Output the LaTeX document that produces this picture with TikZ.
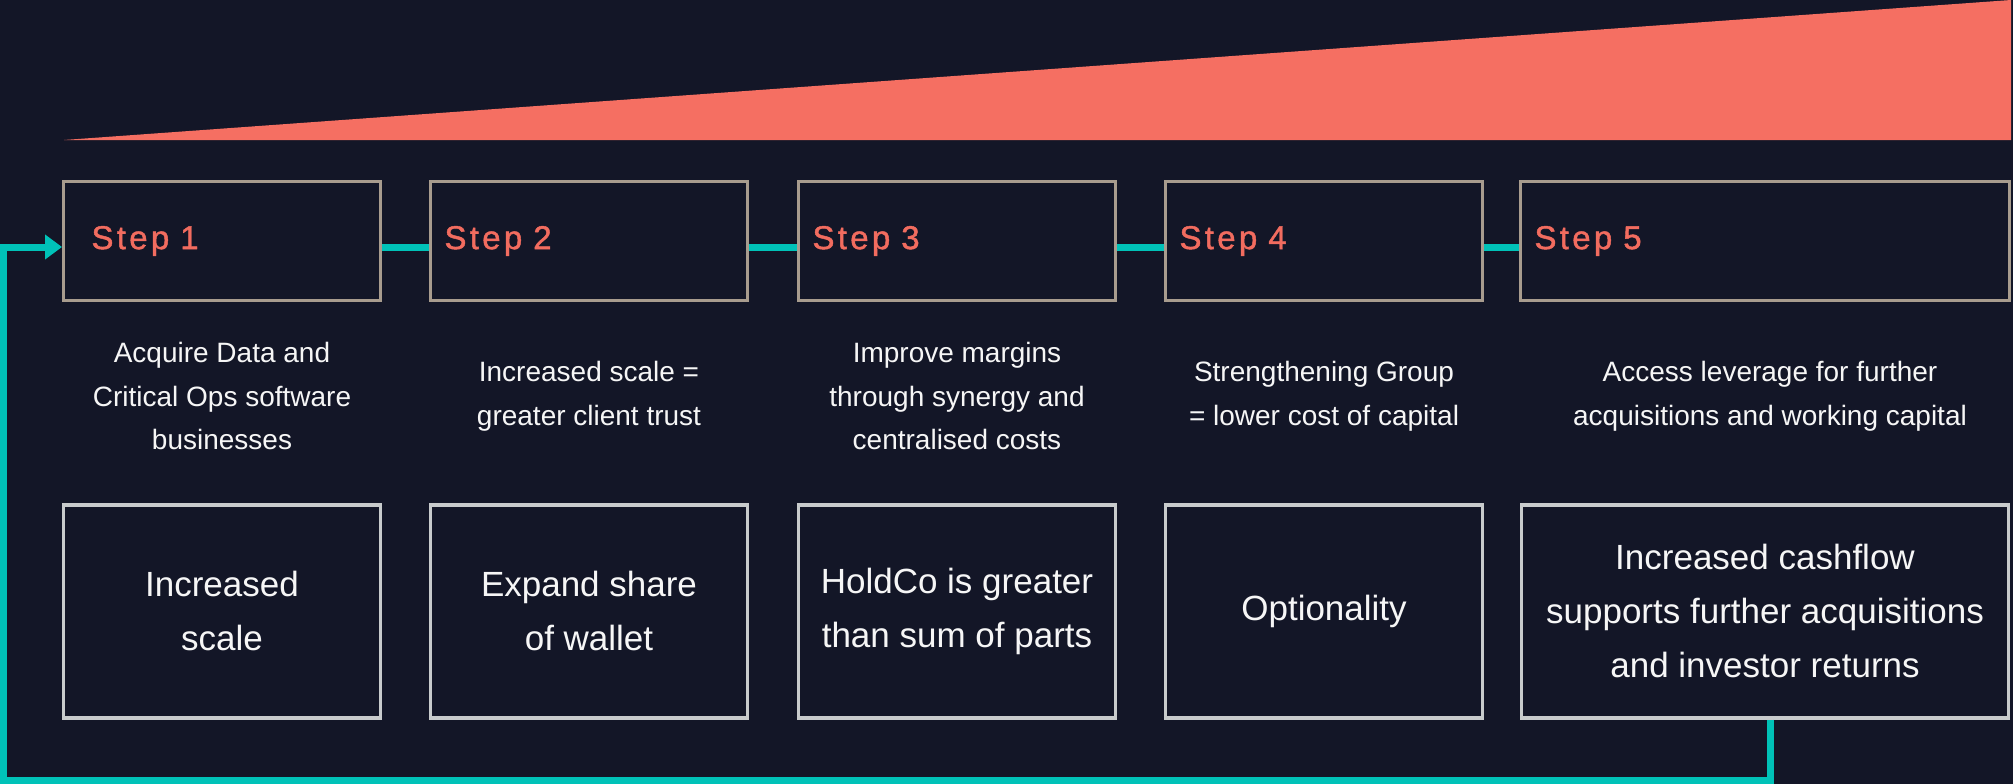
\documentclass[tikz,border=0pt]{standalone}
\usepackage{fontspec}
\setmainfont{Liberation Sans}
\newfontfamily\stepfont[LetterSpace=10, FakeBold=1.3]{Liberation Sans}
\usepackage{xcolor}
\usepackage{tikz}
\usetikzlibrary{arrows.meta,positioning}
\definecolor{navy}{RGB}{19,22,39}
\definecolor{coral}{RGB}{245,111,98}
\definecolor{steptext}{RGB}{242,108,95}
\definecolor{flow}{RGB}{0,194,184}
\definecolor{stepline}{RGB}{168,156,142}
\definecolor{outline}{RGB}{200,203,204}
\definecolor{paper}{RGB}{246,246,246}

\tikzset{
  stepbox/.style={draw=stepline, line width=3pt, minimum height=119pt, inner xsep=14pt,
    text width=289pt, align=left, text=steptext, font=\stepfont\fontsize{33}{38}\selectfont},
  desc/.style={align=center, text=paper, font=\fontsize{28}{43.6}\selectfont},
  outcome/.style={draw=outline, line width=3.5pt, minimum width=317pt, minimum height=213pt,
    align=center, text=paper, font=\fontsize{35}{54}\selectfont},
  link/.style={draw=flow, line width=7pt},
}

\begin{document}
\begin{tikzpicture}[x=1pt, y=-1pt, node distance=47pt and 47pt]
  \fill[navy] (0,0) rectangle (2013,784);
  \fill[coral] (64,140) -- (2011,0) -- (2011,140) -- cycle;

  \node[stepbox, inner xsep=28pt, text width=261pt] (s1) at (222,241) {Step 1};
  \node[stepbox, right=47pt of s1] (s2) {Step 2};
  \node[stepbox, right=48pt of s2] (s3) {Step 3};
  \node[stepbox, right=47pt of s3] (s4) {Step 4};
  \node[stepbox, right=35pt of s4, text width=461pt] (s5) {Step 5};

  \node[desc] (d1) at ([yshift=-155pt]s1.center) {Acquire Data and\\Critical Ops software\\businesses};
  \node[desc] (d2) at ([yshift=-155pt]s2.center) {Increased scale =\\greater client trust};
  \node[desc] (d3) at ([yshift=-155pt]s3.center) {Improve margins\\through synergy and\\centralised costs};
  \node[desc] (d4) at ([yshift=-155pt]s4.center) {Strengthening Group\\= lower cost of capital};
  \node[desc] (d5) at ([xshift=5pt, yshift=-155pt]s5.center) {Access leverage for further\\acquisitions and working capital};

  \node[outcome, below=201pt of s1] (b1) {Increased\\scale};
  \node[outcome, below=201pt of s2] (b2) {Expand share\\of wallet};
  \node[outcome, below=201pt of s3] (b3) {HoldCo is greater\\than sum of parts};
  \node[outcome, below=201pt of s4] (b4) {Optionality};
  \node[outcome, below=201pt of s5, minimum width=487pt] (b5)
    {Increased cashflow\\supports further acquisitions\\and investor returns};

  \draw[link] ([yshift=-6pt]s1.east) -- ([yshift=-6pt]s2.west);
  \draw[link] ([yshift=-6pt]s2.east) -- ([yshift=-6pt]s3.west);
  \draw[link] ([yshift=-6pt]s3.east) -- ([yshift=-6pt]s4.west);
  \draw[link] ([yshift=-6pt]s4.east) -- ([yshift=-6pt]s5.west);

  \coordinate (back) at (3.5,780.5);
  \draw[link, -{Triangle[length=17pt, width=24pt]}]
    ([xshift=5pt]b5.south) |- (back) |- ([yshift=-6pt]s1.west);
\end{tikzpicture}
\end{document}
